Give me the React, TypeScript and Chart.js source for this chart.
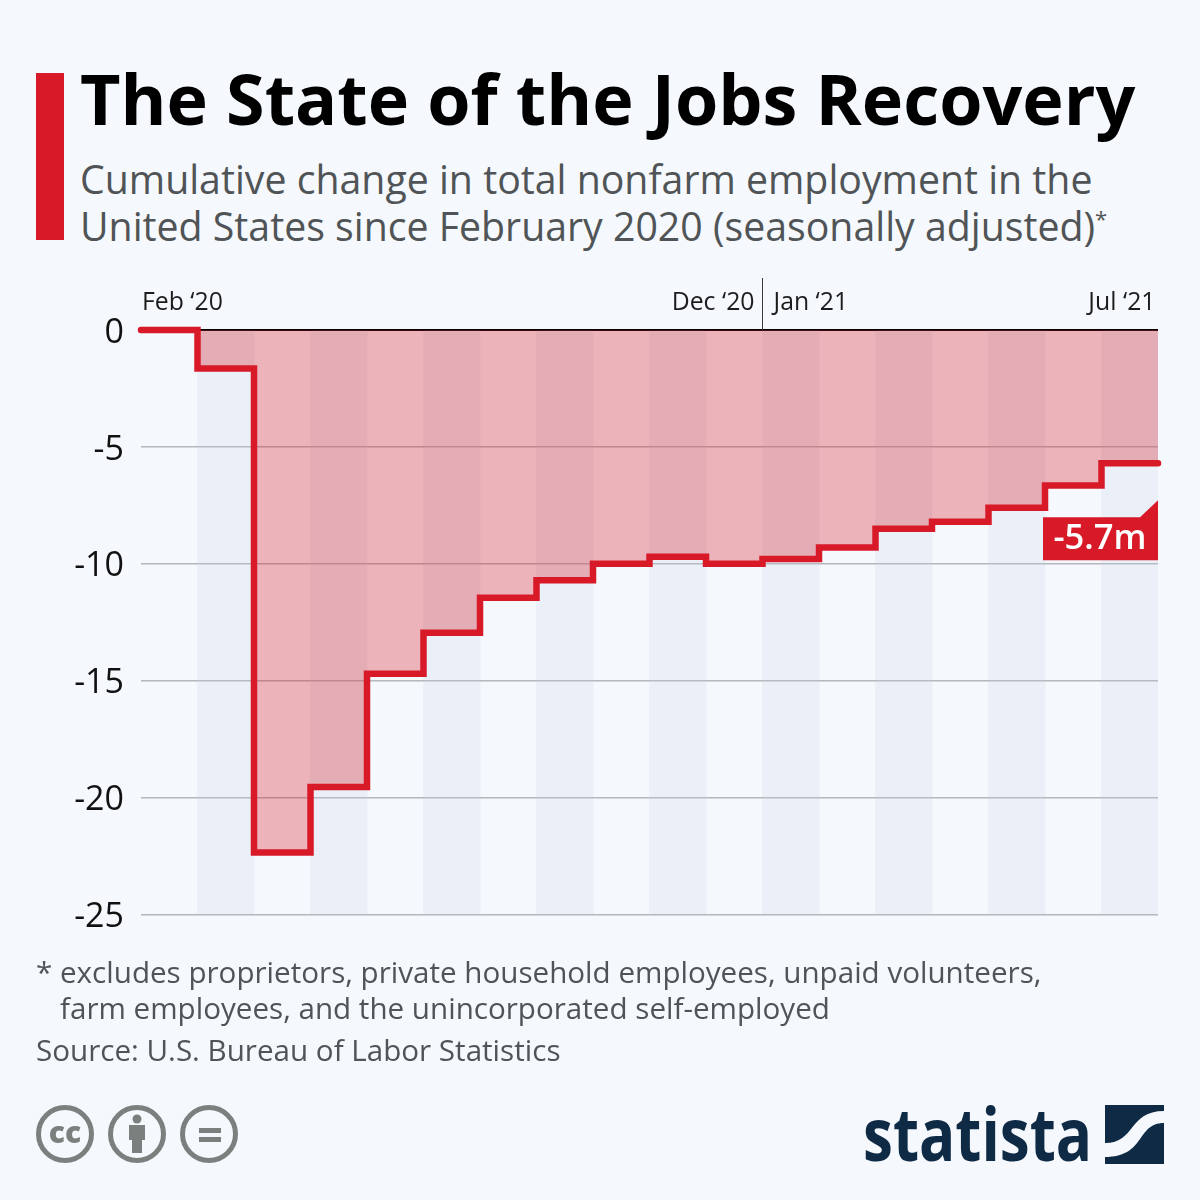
import React, { useEffect, useRef } from "react";
import { Chart, registerables } from "chart.js";

Chart.register(...registerables);

const months = ["Feb '20","Mar '20","Apr '20","May '20","Jun '20","Jul '20","Aug '20","Sep '20","Oct '20","Nov '20","Dec '20","Jan '21","Feb '21","Mar '21","Apr '21","May '21","Jun '21","Jul '21"];
const jobsChange = [0, -1.65, -22.35, -19.55, -14.7, -12.95, -11.45, -10.7, -10.0, -9.7, -10.0, -9.8, -9.3, -8.5, -8.2, -7.6, -6.65, -5.7];
const bands = [null, -25, null, -25, null, -25, null, -25, null, -25, null, -25, null, -25, null, -25, null, -25];
const yTicks = [0, -5, -10, -15, -20, -25];
const topLabels = [
  { at: 0, text: "Feb ‘20", align: "left", dx: 1 },
  { at: 11, text: "Dec ‘20", align: "right", dx: -8 },
  { at: 11, text: "Jan ‘21", align: "left", dx: 11 },
  { at: 18, text: "Jul ‘21", align: "right", dx: -2.5 },
];
const endLabel = "-5.7m";

const RED = "#d81a28";
const BG = "#f5f8fc";
const FONT = "'Open Sans', sans-serif";
const ICON = "#7b807e";
const NAVY = "#0f2a45";

const overlay = {
  id: "overlay",
  afterDatasetsDraw(chart: any) {
    const { ctx, scales } = chart;
    const xs = scales.x2;
    const ys = scales.y;
    ctx.save();
    ctx.fillStyle = "#1c1c1c";
    ctx.font = `24.8px ${FONT}`;
    ctx.textBaseline = "alphabetic";
    topLabels.forEach((l) => {
      ctx.textAlign = l.align;
      ctx.fillText(l.text, xs.getPixelForValue(l.at) + l.dx, 310);
    });
    const vx = Math.round(xs.getPixelForValue(11)) - 0.5;
    ctx.strokeStyle = "#3a3a3a";
    ctx.lineWidth = 1;
    ctx.beginPath();
    ctx.moveTo(vx, 278);
    ctx.lineTo(vx, ys.getPixelForValue(0));
    ctx.stroke();

    const right = xs.getPixelForValue(18);
    const top = ys.getPixelForValue(jobsChange[jobsChange.length - 1]) + 54;
    ctx.fillStyle = RED;
    ctx.beginPath();
    ctx.moveTo(right - 115, top);
    ctx.lineTo(right - 18, top);
    ctx.lineTo(right, top - 17);
    ctx.lineTo(right, top + 43);
    ctx.lineTo(right - 115, top + 43);
    ctx.closePath();
    ctx.fill();
    ctx.fillStyle = "#ffffff";
    ctx.font = `600 34.6px ${FONT}`;
    ctx.textAlign = "center";
    ctx.fillText(endLabel, right - 58, top + 32);
    ctx.restore();
  },
};

export default function App() {
  const ref = useRef<HTMLCanvasElement | null>(null);
  useEffect(() => {
    const chart = new Chart(ref.current as HTMLCanvasElement, {
      type: "bar",
      plugins: [overlay],
      data: {
        labels: months,
        datasets: [
          {
            type: "line",
            order: 0,
            xAxisID: "x2",
            data: [...jobsChange.map((v, i) => ({ x: i, y: v })), { x: months.length, y: jobsChange[jobsChange.length - 1] }],
            stepped: true,
            borderColor: RED,
            borderWidth: 6.5,
            borderCapStyle: "round",
            borderJoinStyle: "miter",
            pointRadius: 0,
            fill: "origin",
            backgroundColor: "rgba(216,26,40,0.31)",
            clip: false,
          } as any,
          {
            type: "bar",
            order: 1,
            xAxisID: "x",
            data: bands,
            backgroundColor: "rgba(195,203,232,0.2)",
            barPercentage: 1,
            categoryPercentage: 1,
            grouped: false,
            borderWidth: 0,
          } as any,
        ],
      },
      options: {
        animation: false,
        responsive: false,
        maintainAspectRatio: false,
        layout: { padding: { left: 0, top: 330, right: 42, bottom: 285.5 } },
        plugins: { legend: { display: false }, tooltip: { enabled: false } },
        scales: {
          x: { type: "category", display: false, offset: true },
          x2: { type: "linear", display: false, min: 0, max: months.length, offset: false },
          y: {
            min: -25,
            max: 0,
            afterFit(s: any) { s.width = 141; },
            afterBuildTicks(s: any) { s.ticks = yTicks.map((value) => ({ value })); },
            border: { display: false },
            grid: {
              drawTicks: false,
              tickLength: 0,
              lineWidth: (c: any) => (c.tick.value === 0 ? 2 : 1.5),
              color: (c: any) => (c.tick.value === 0 ? "#000000" : "#b4b8ba"),
            },
            ticks: {
              padding: 17,
              color: "#111111",
              font: { family: "'Open Sans', sans-serif", size: 34, lineHeight: 6 / 34 },
              callback: (v: any) => ["", String(v)],
            },
          },
        },
      },
    } as any);
    return () => chart.destroy();
  }, []);

  const text = (extra: React.CSSProperties): React.CSSProperties => ({
    position: "absolute",
    whiteSpace: "nowrap",
    fontFamily: FONT,
    margin: 0,
    ...extra,
  });

  return (
    <div style={{ position: "absolute", left: 0, top: 0, width: 1200, height: 1200, background: BG, overflow: "hidden" }}>
      <div style={{ position: "absolute", left: 36, top: 73, width: 28, height: 167, background: RED }} />
      <div style={text({ left: 80, top: 52, fontSize: 70, lineHeight: "92px", fontWeight: 700, color: "#000" })}>The State of the Jobs Recovery</div>
      <div style={text({ left: 80, top: 155, fontSize: 39.25, lineHeight: "47px", color: "#505456" })}>
        Cumulative change in total nonfarm employment in the<br />
        United States since February 2020 (seasonally adjusted)<sup style={{ fontSize: 22, lineHeight: 0 }}>*</sup>
      </div>
      <canvas ref={ref} width={1200} height={1200} style={{ position: "absolute", left: 0, top: 0, width: 1200, height: 1200 }} />
      <div style={text({ left: 36, top: 954, fontSize: 29.6, lineHeight: "36px", color: "#505456" })}>
        * excludes proprietors, private household employees, unpaid volunteers,<br />
        <span style={{ marginLeft: 24 }}>farm employees, and the unincorporated self-employed</span>
      </div>
      <div style={text({ left: 36, top: 1032, fontSize: 29.6, lineHeight: "36px", color: "#505456" })}>Source: U.S. Bureau of Labor Statistics</div>
      <svg width={1200} height={1200} style={{ position: "absolute", left: 0, top: 0, pointerEvents: "none" }}>
        <g fill="none" stroke={ICON} strokeWidth={5}>
          <circle cx={65} cy={1134} r={26.5} />
          <circle cx={137} cy={1134} r={26.5} />
          <circle cx={209} cy={1134} r={26.5} />
        </g>
        <text x={65} y={1143} textAnchor="middle" fontFamily={FONT} fontWeight={800} fontSize={30} fill={ICON}>cc</text>
        <g fill={ICON}>
          <circle cx={137} cy={1119} r={4.5} />
          <rect x={129} y={1125} width={16} height={15} />
          <rect x={132} y={1125} width={10} height={28} />
          <rect x={199} y={1128} width={22} height={5} />
          <rect x={199} y={1137} width={22} height={5} />
        </g>
        <text x={0} y={0} transform="translate(863 1161) scale(0.813 1)" fontFamily={FONT} fontWeight={700} fontSize={74} fill={NAVY}>statista</text>
        <g fill={NAVY}>
          <path d="M1105 1105 H1164 V1111 C1128 1111 1136 1143 1105 1143 Z" />
          <path d="M1164 1123 V1164 H1105 V1157 C1146 1157 1136 1123 1164 1123 Z" />
        </g>
      </svg>
    </div>
  );
}
